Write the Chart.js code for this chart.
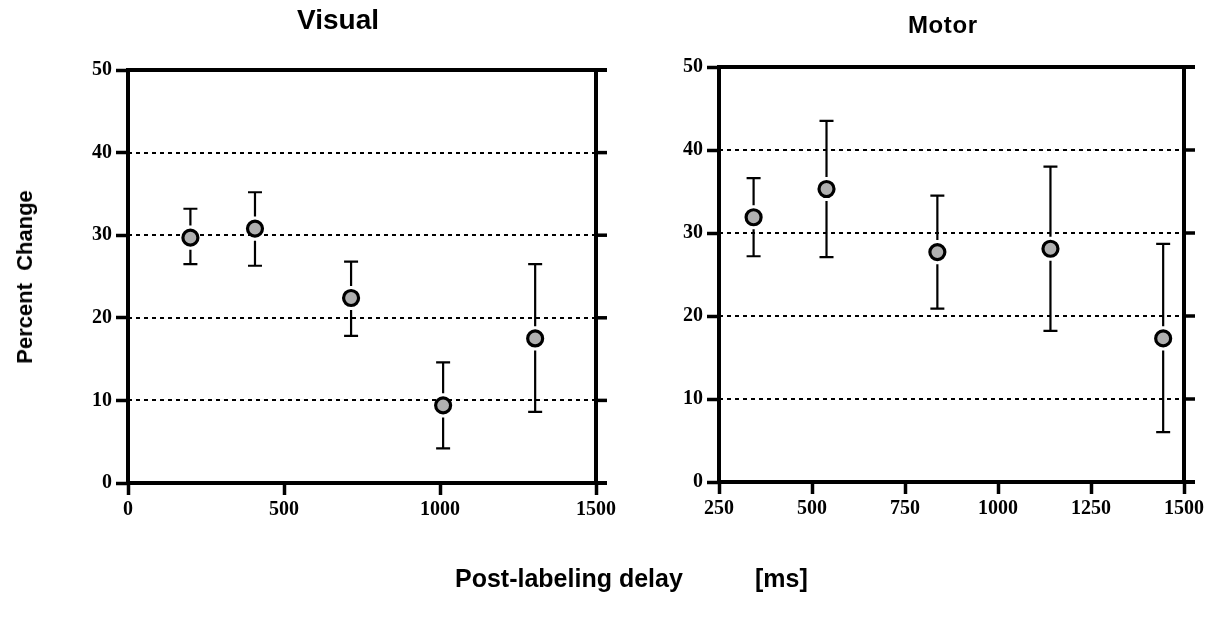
<!DOCTYPE html>
<html>
<head>
<meta charset="utf-8">
<script src="https://cdn.jsdelivr.net/npm/chart.js@4.4.1/dist/chart.umd.min.js"></script>
<style>
  html, body { margin: 0; padding: 0; background: #ffffff; }
  body { width: 1215px; height: 621px; position: relative; overflow: hidden; }
  canvas { position: absolute; top: 0; }
  .lbl { position: absolute; font-family: "Liberation Sans", Arial, sans-serif; font-weight: bold; color: #000; line-height: 1; white-space: pre; }
</style>
</head>
<body>
<canvas id="cVisual" width="620" height="621" style="left:0px"></canvas>
<canvas id="cMotor" width="615" height="621" style="left:600px"></canvas>

<div class="lbl" style="left:297px; top:6px; font-size:28px;">Visual</div>
<div class="lbl" style="left:908px; top:13px; font-size:24px; letter-spacing:0.6px;">Motor</div>
<div class="lbl" id="ylab" style="left:25px; top:277px; font-size:22px; transform:translate(-50%,-50%) rotate(-90deg);">Percent  Change</div>
<div class="lbl" style="left:455px; top:566px; font-size:25px;">Post-labeling delay</div>
<div class="lbl" style="left:755px; top:566px; font-size:25px;">[ms]</div>

<script>
// ---------------- data ----------------
const visualDelay = [200, 407, 715, 1010, 1305];
const visualMean  = [29.7, 30.8, 22.4, 9.4, 17.5];
const visualUpper = [33.2, 35.2, 26.8, 14.6, 26.5];
const visualLower = [26.5, 26.3, 17.8, 4.2, 8.6];

const motorDelay = [343, 539, 837, 1141, 1444];
const motorMean  = [31.9, 35.3, 27.7, 28.1, 17.3];
const motorUpper = [36.6, 43.5, 34.5, 38.0, 28.7];
const motorLower = [27.2, 27.1, 20.9, 18.2, 6.0];

const yTicks       = [0, 10, 20, 30, 40, 50];
const yGridTicks   = [10, 20, 30, 40];
const visualXTicks = [0, 500, 1000, 1500];
const motorXTicks  = [250, 500, 750, 1000, 1250, 1500];

// ---------------- plugins ----------------
const framePlugin = {
  id: 'frameAndBars',
  beforeDatasetsDraw(chart) {
    const { ctx, chartArea: a, scales: { x, y } } = chart;
    ctx.save();
    // dashed horizontal grid lines
    ctx.strokeStyle = '#000';
    ctx.lineWidth = 2;
    ctx.setLineDash([4, 4]);
    yGridTicks.forEach(v => {
      const py = Math.round(y.getPixelForValue(v));
      ctx.beginPath();
      ctx.moveTo(a.left, py);
      ctx.lineTo(a.right, py);
      ctx.stroke();
    });
    ctx.setLineDash([]);
    // error bars
    const ds = chart.data.datasets[0];
    const r = ds.pointRadius + ds.pointBorderWidth / 2 + 3;
    ctx.lineWidth = 2.2;
    ctx.strokeStyle = '#000';
    ds.data.forEach(p => {
      const px = x.getPixelForValue(p.x);
      const py = y.getPixelForValue(p.y);
      const pu = y.getPixelForValue(p.yMax);
      const pl = y.getPixelForValue(p.yMin);
      ctx.beginPath();
      ctx.moveTo(px, pu); ctx.lineTo(px, py - r);
      ctx.moveTo(px, py + r); ctx.lineTo(px, pl);
      ctx.moveTo(px - 7, pu); ctx.lineTo(px + 7, pu);
      ctx.moveTo(px - 7, pl); ctx.lineTo(px + 7, pl);
      ctx.stroke();
    });
    ctx.restore();
  },
  afterDraw(chart) {
    const { ctx, chartArea: a, scales: { y } } = chart;
    ctx.save();
    ctx.strokeStyle = '#000';
    ctx.lineWidth = 4;
    ctx.lineCap = 'butt';
    ctx.beginPath();
    ctx.moveTo(a.left, a.top - 2); ctx.lineTo(a.left, a.bottom + 2);
    ctx.moveTo(a.right, a.top - 2); ctx.lineTo(a.right, a.bottom + 2);
    ctx.moveTo(a.left - 2, a.top); ctx.lineTo(a.right + 11, a.top);
    ctx.moveTo(a.left - 2, a.bottom); ctx.lineTo(a.right + 11, a.bottom);
    ctx.stroke();
    // right-side tick marks
    ctx.lineWidth = 3.5;
    yGridTicks.forEach(v => {
      const py = y.getPixelForValue(v);
      ctx.beginPath();
      ctx.moveTo(a.right, py);
      ctx.lineTo(a.right + 11, py);
      ctx.stroke();
    });
    ctx.restore();
  }
};

// ---------------- builder ----------------
function makeChart(id, xs, means, lo, hi, xTicks, xMin, xMax, yAxisWidth, pad) {
  const pts = xs.map((v, i) => ({ x: v, y: means[i], yMin: lo[i], yMax: hi[i] }));
  const tickFont = { family: '"Liberation Serif", "Times New Roman", serif', weight: 'bold', size: 20 };
  return new Chart(document.getElementById(id), {
    type: 'scatter',
    data: {
      datasets: [{
        data: pts,
        pointRadius: 7.5,
        pointHoverRadius: 7.5,
        pointBorderWidth: 3.2,
        pointBackgroundColor: '#b0b0b0',
        pointBorderColor: '#000',
        showLine: false
      }]
    },
    options: {
      responsive: false,
      animation: false,
      events: [],
      layout: { padding: pad },
      plugins: { legend: { display: false }, tooltip: { enabled: false }, title: { display: false } },
      scales: {
        x: {
          type: 'linear',
          min: xMin, max: xMax,
          afterBuildTicks: s => { s.ticks = xTicks.map(v => ({ value: v })); },
          afterFit: s => { s.height = 45; },
          border: { display: false },
          grid: { drawOnChartArea: false, drawTicks: true, tickLength: 12, tickWidth: 3.5, tickColor: '#000' },
          ticks: { color: '#000', font: tickFont, padding: 3, maxRotation: 0, autoSkip: false, callback: v => String(v) }
        },
        y: {
          type: 'linear',
          min: 0, max: 50,
          afterBuildTicks: s => { s.ticks = yTicks.map(v => ({ value: v })); },
          afterFit: s => { s.width = yAxisWidth; },
          border: { display: false },
          grid: { drawOnChartArea: false, drawTicks: true, tickLength: 12, tickWidth: 3.5, tickColor: '#000' },
          ticks: { color: '#000', font: tickFont, padding: 4, callback: v => String(v) }
        }
      }
    },
    plugins: [framePlugin]
  });
}

makeChart('cVisual', visualDelay, visualMean, visualLower, visualUpper, visualXTicks, 0, 1500, 128,
  { left: 0, top: 70, right: 24, bottom: 621 - 483 - 45 });
makeChart('cMotor', motorDelay, motorMean, motorLower, motorUpper, motorXTicks, 250, 1500, 119,
  { left: 0, top: 67, right: 31, bottom: 621 - 482 - 45 });
</script>
</body>
</html>
